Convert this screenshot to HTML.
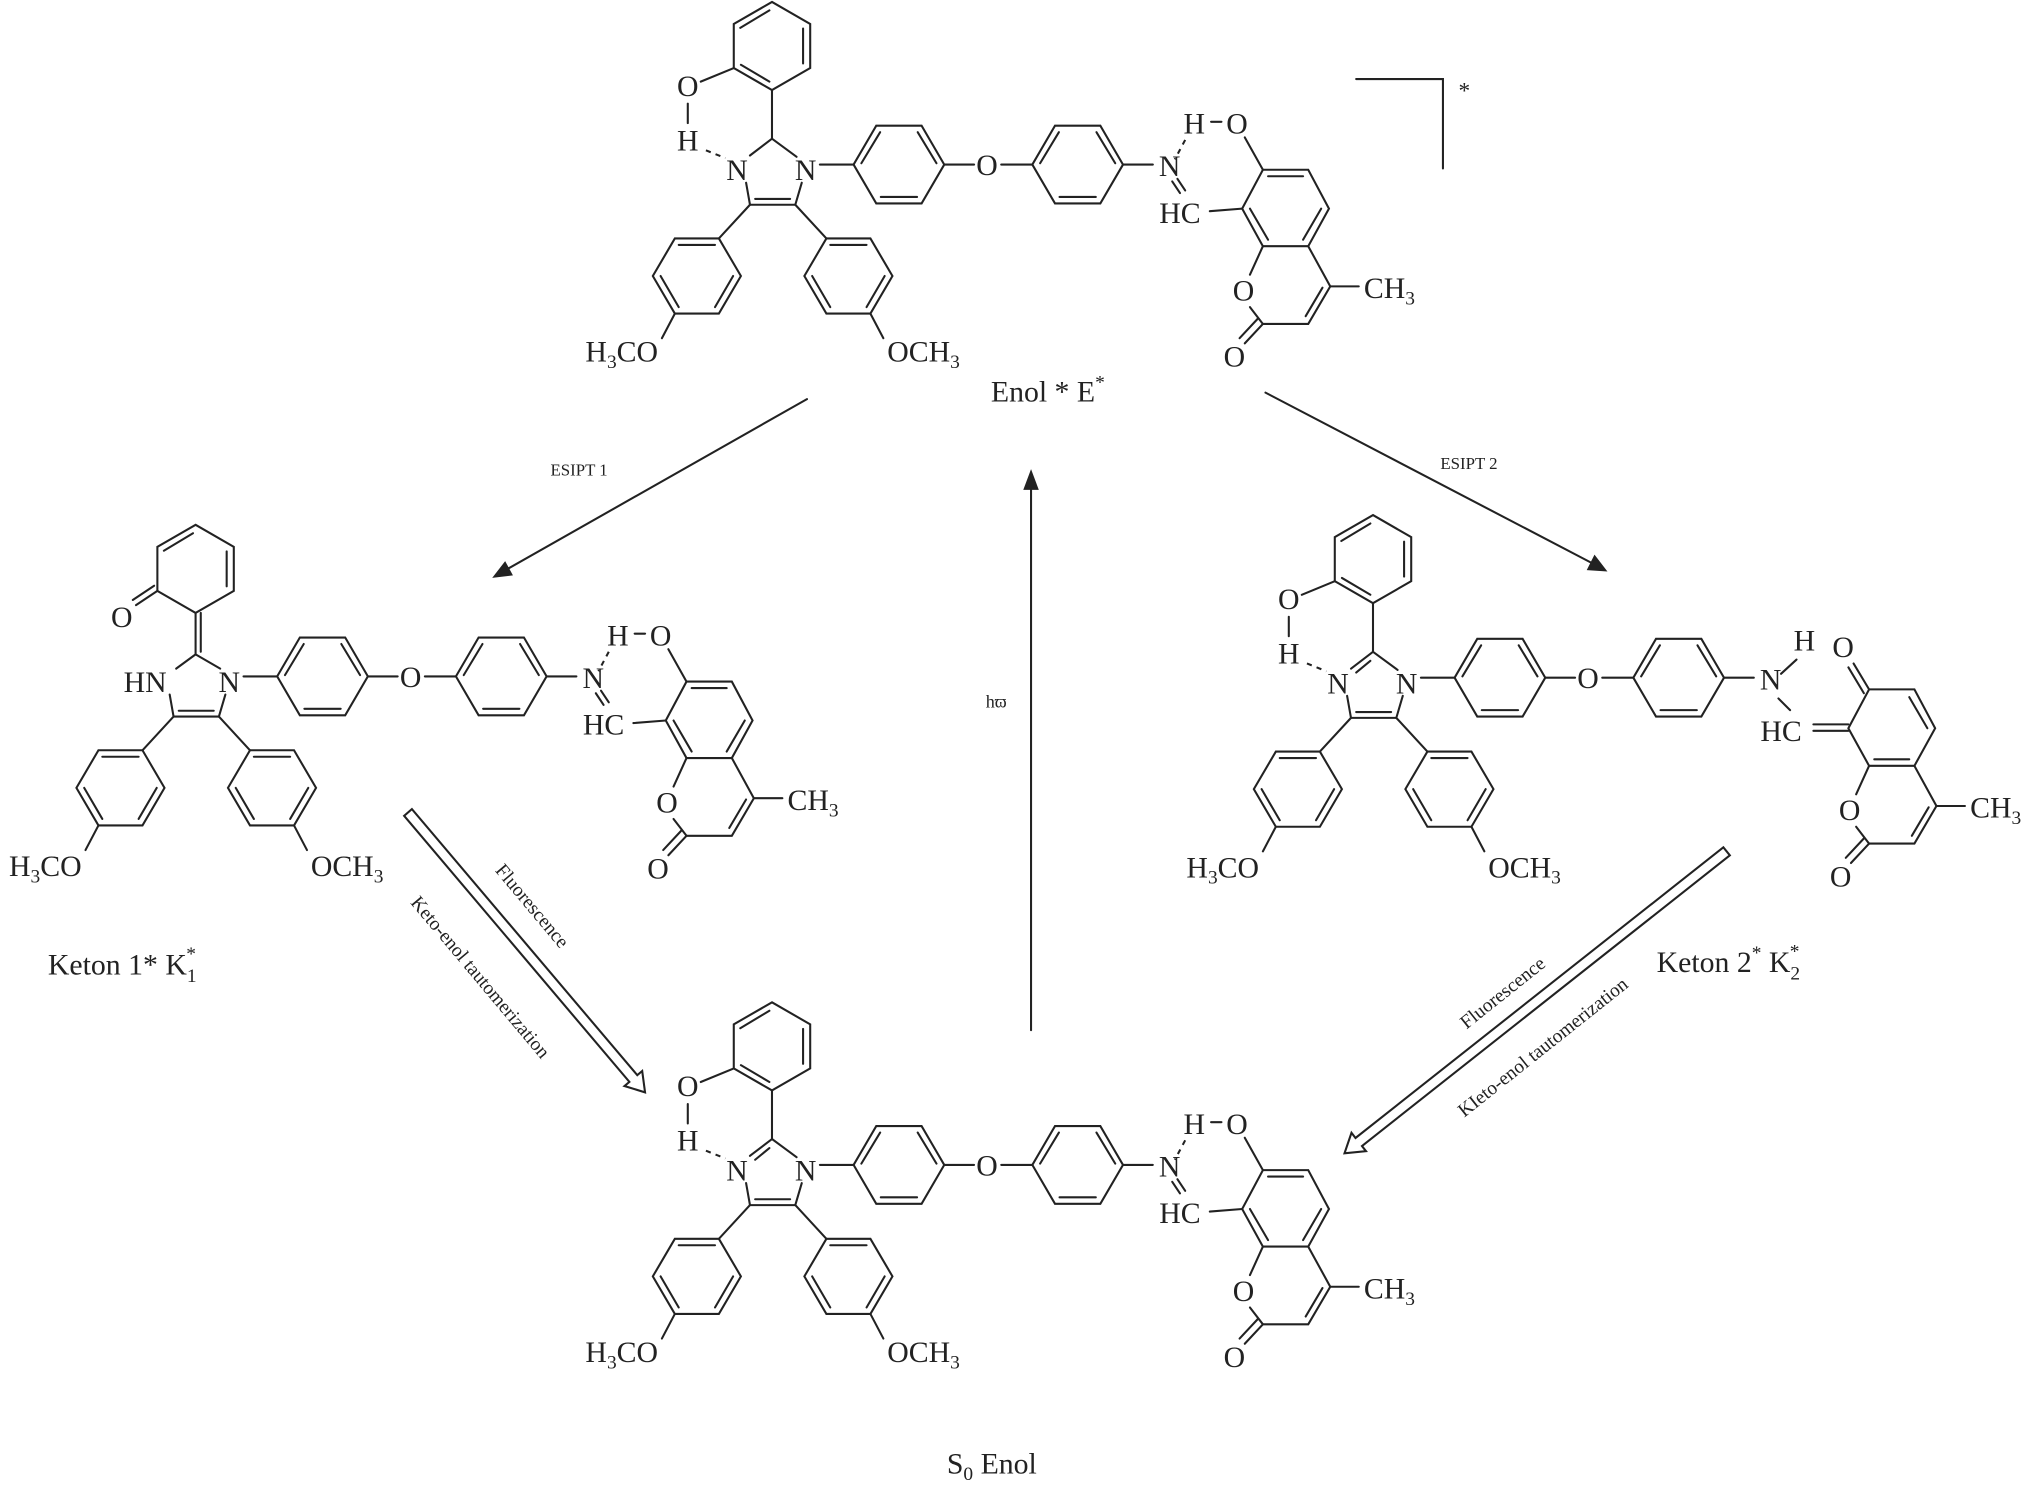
<!DOCTYPE html>
<html><head><meta charset="utf-8">
<style>
html,body{margin:0;padding:0;background:#fff;}
svg{display:block;}
.l{stroke:#222;stroke-width:1.6;fill:none;stroke-linecap:round;}
.d{stroke:#222;stroke-width:1.6;fill:none;stroke-dasharray:4 4;}
text{font-family:"Liberation Serif",serif;fill:#222;}
.t{font-size:23px;text-anchor:middle;}
.t.st{text-anchor:start;}
.s{font-size:15px;}
</style></head><body>
<svg width="2031" height="1485" viewBox="0 0 1568 1146" preserveAspectRatio="none" xmlns="http://www.w3.org/2000/svg">

<!-- ================= TOP MOLECULE (Enol*) ================= -->
<g id="m1">
 <polygon class="l" points="596,1.5 625.5,18.5 625.5,52.5 596,69.5 566.5,52.5 566.5,18.5"/>
 <line class="l" x1="571.5" y1="21.5" x2="594" y2="8"/>
 <line class="l" x1="620" y1="22" x2="620" y2="49"/>
 <line class="l" x1="572" y1="50" x2="594" y2="63"/>
 <line class="l" x1="596" y1="69.5" x2="596" y2="107"/>
 <line class="l" x1="566.5" y1="52.5" x2="541" y2="63"/>
 <text class="t" x="531" y="74">O</text>
 <line class="l" x1="531" y1="80" x2="531" y2="95"/>
 <text class="t" x="531" y="116">H</text>
 <line class="d" x1="545" y1="116" x2="560" y2="122"/>
 <text class="t" x="569" y="139">N</text>
 <text class="t" x="622" y="139">N</text>
 <line class="l" x1="596" y1="107" x2="579" y2="120"/>
 <line class="l" x1="596" y1="107" x2="615" y2="121"/>
 <line class="l" x1="576" y1="141" x2="579" y2="158"/>
 <line class="l" x1="619" y1="141" x2="614" y2="158"/>
 <line class="l" x1="579" y1="158" x2="614" y2="158"/>
 <line class="l" x1="583" y1="153.5" x2="610" y2="153.5"/>
 <line class="l" x1="579" y1="158" x2="555" y2="184"/>
 <polygon class="l" points="555,184 521,184 504,213 521,242 555,242 572,213"/>
 <line class="l" x1="524" y1="189" x2="552" y2="189"/>
 <line class="l" x1="510" y1="213" x2="524" y2="237"/>
 <line class="l" x1="552" y1="237" x2="566" y2="213"/>
 <line class="l" x1="521" y1="242" x2="511" y2="261"/>
 <text class="t" x="480" y="279">H<tspan font-size="15" dy="5">3</tspan><tspan dy="-5">CO</tspan></text>
 <line class="l" x1="614" y1="158" x2="638" y2="184"/>
 <polygon class="l" points="638,184 672,184 689,213 672,242 638,242 621,213"/>
 <line class="l" x1="641" y1="189" x2="669" y2="189"/>
 <line class="l" x1="627" y1="213" x2="641" y2="237"/>
 <line class="l" x1="669" y1="237" x2="683" y2="213"/>
 <line class="l" x1="672" y1="242" x2="682" y2="261"/>
 <text class="t" x="713" y="279">OCH<tspan font-size="15" dy="5">3</tspan></text>
 <line class="l" x1="633" y1="127" x2="659" y2="127"/>
 <polygon class="l" points="659,127 676.5,97 711.5,97 729,127 711.5,157 676.5,157"/>
 <line class="l" x1="665" y1="126" x2="679.5" y2="102"/>
 <line class="l" x1="708.5" y1="102" x2="723" y2="126"/>
 <line class="l" x1="680" y1="152" x2="708" y2="152"/>
 <line class="l" x1="729" y1="127" x2="752" y2="127"/>
 <text class="t" x="762" y="135">O</text>
 <line class="l" x1="773" y1="127" x2="797" y2="127"/>
 <polygon class="l" points="797,127 814.5,97 849.5,97 867,127 849.5,157 814.5,157"/>
 <line class="l" x1="803" y1="126" x2="817.5" y2="102"/>
 <line class="l" x1="846.5" y1="102" x2="861" y2="126"/>
 <line class="l" x1="818" y1="152" x2="846" y2="152"/>
 <line class="l" x1="867" y1="127" x2="890" y2="127"/>
 <text class="t" x="903" y="136">N</text>
 <text class="t" x="922" y="103">H</text>
 <line class="l" x1="935" y1="94" x2="943" y2="94"/>
 <text class="t" x="955" y="103">O</text>
 <line class="l" x1="961" y1="106" x2="975" y2="131"/>
 <line class="d" x1="915" y1="108" x2="907" y2="123" stroke-dasharray="3 3"/>
 <line class="l" x1="905" y1="140" x2="911" y2="149"/>
 <line class="l" x1="909" y1="138" x2="915" y2="147"/>
 <text class="t" x="911" y="172">HC</text>
 <line class="l" x1="934" y1="163" x2="959" y2="161"/>
 <polygon class="l" points="975,131 1010,131 1026,161 1010,190 975,190 959,161"/>
 <line class="l" x1="979" y1="136" x2="1006" y2="136"/>
 <line class="l" x1="1020" y1="161" x2="1006" y2="185"/>
 <line class="l" x1="965" y1="161" x2="979" y2="185"/>
 <line class="l" x1="975" y1="190" x2="965" y2="212"/>
 <text class="t" x="960" y="232">O</text>
 <line class="l" x1="965" y1="237" x2="975" y2="250"/>
 <polyline class="l" points="975,250 1010,250 1027,221 1010,190"/>
 <line class="l" x1="1008" y1="244" x2="1021" y2="222"/>
 <line class="l" x1="975" y1="250" x2="961" y2="265"/>
 <line class="l" x1="971" y1="246" x2="957" y2="261"/>
 <text class="t" x="953" y="283">O</text>
 <line class="l" x1="1027" y1="221" x2="1049" y2="221"/>
 <text class="t st" x="1053" y="230">CH<tspan font-size="15" dy="5">3</tspan></text>
</g>
<polyline class="l" points="1047,61 1114,61 1114,130"/>
<text x="1126" y="76" font-size="18">*</text>
<text x="765" y="310" font-size="23">Enol * E<tspan font-size="15" dy="-10">*</tspan></text>

<!-- ================= BOTTOM MOLECULE (S0 Enol) ================= -->
<g transform="translate(0,772)">
 <polygon class="l" points="596,1.5 625.5,18.5 625.5,52.5 596,69.5 566.5,52.5 566.5,18.5"/>
 <line class="l" x1="571.5" y1="21.5" x2="594" y2="8"/>
 <line class="l" x1="620" y1="22" x2="620" y2="49"/>
 <line class="l" x1="572" y1="50" x2="594" y2="63"/>
 <line class="l" x1="596" y1="69.5" x2="596" y2="107"/>
 <line class="l" x1="566.5" y1="52.5" x2="541" y2="63"/>
 <text class="t" x="531" y="74">O</text>
 <line class="l" x1="531" y1="80" x2="531" y2="95"/>
 <text class="t" x="531" y="116">H</text>
 <line class="d" x1="545" y1="116" x2="560" y2="122"/>
 <text class="t" x="569" y="139">N</text>
 <text class="t" x="622" y="139">N</text>
 <line class="l" x1="596" y1="107" x2="579" y2="120"/>
 <line class="l" x1="594" y1="114" x2="583" y2="123"/>
 <line class="l" x1="596" y1="107" x2="615" y2="121"/>
 <line class="l" x1="576" y1="141" x2="579" y2="158"/>
 <line class="l" x1="619" y1="141" x2="614" y2="158"/>
 <line class="l" x1="579" y1="158" x2="614" y2="158"/>
 <line class="l" x1="583" y1="153.5" x2="610" y2="153.5"/>
 <line class="l" x1="579" y1="158" x2="555" y2="184"/>
 <polygon class="l" points="555,184 521,184 504,213 521,242 555,242 572,213"/>
 <line class="l" x1="524" y1="189" x2="552" y2="189"/>
 <line class="l" x1="510" y1="213" x2="524" y2="237"/>
 <line class="l" x1="552" y1="237" x2="566" y2="213"/>
 <line class="l" x1="521" y1="242" x2="511" y2="261"/>
 <text class="t" x="480" y="279">H<tspan font-size="15" dy="5">3</tspan><tspan dy="-5">CO</tspan></text>
 <line class="l" x1="614" y1="158" x2="638" y2="184"/>
 <polygon class="l" points="638,184 672,184 689,213 672,242 638,242 621,213"/>
 <line class="l" x1="641" y1="189" x2="669" y2="189"/>
 <line class="l" x1="627" y1="213" x2="641" y2="237"/>
 <line class="l" x1="669" y1="237" x2="683" y2="213"/>
 <line class="l" x1="672" y1="242" x2="682" y2="261"/>
 <text class="t" x="713" y="279">OCH<tspan font-size="15" dy="5">3</tspan></text>
 <line class="l" x1="633" y1="127" x2="659" y2="127"/>
 <polygon class="l" points="659,127 676.5,97 711.5,97 729,127 711.5,157 676.5,157"/>
 <line class="l" x1="665" y1="126" x2="679.5" y2="102"/>
 <line class="l" x1="708.5" y1="102" x2="723" y2="126"/>
 <line class="l" x1="680" y1="152" x2="708" y2="152"/>
 <line class="l" x1="729" y1="127" x2="752" y2="127"/>
 <text class="t" x="762" y="135">O</text>
 <line class="l" x1="773" y1="127" x2="797" y2="127"/>
 <polygon class="l" points="797,127 814.5,97 849.5,97 867,127 849.5,157 814.5,157"/>
 <line class="l" x1="803" y1="126" x2="817.5" y2="102"/>
 <line class="l" x1="846.5" y1="102" x2="861" y2="126"/>
 <line class="l" x1="818" y1="152" x2="846" y2="152"/>
 <line class="l" x1="867" y1="127" x2="890" y2="127"/>
 <text class="t" x="903" y="136">N</text>
 <text class="t" x="922" y="103">H</text>
 <line class="l" x1="935" y1="94" x2="943" y2="94"/>
 <text class="t" x="955" y="103">O</text>
 <line class="l" x1="961" y1="106" x2="975" y2="131"/>
 <line class="d" x1="915" y1="108" x2="907" y2="123" stroke-dasharray="3 3"/>
 <line class="l" x1="905" y1="140" x2="911" y2="149"/>
 <line class="l" x1="909" y1="138" x2="915" y2="147"/>
 <text class="t" x="911" y="172">HC</text>
 <line class="l" x1="934" y1="163" x2="959" y2="161"/>
 <polygon class="l" points="975,131 1010,131 1026,161 1010,190 975,190 959,161"/>
 <line class="l" x1="979" y1="136" x2="1006" y2="136"/>
 <line class="l" x1="1020" y1="161" x2="1006" y2="185"/>
 <line class="l" x1="965" y1="161" x2="979" y2="185"/>
 <line class="l" x1="975" y1="190" x2="965" y2="212"/>
 <text class="t" x="960" y="232">O</text>
 <line class="l" x1="965" y1="237" x2="975" y2="250"/>
 <polyline class="l" points="975,250 1010,250 1027,221 1010,190"/>
 <line class="l" x1="1008" y1="244" x2="1021" y2="222"/>
 <line class="l" x1="975" y1="250" x2="961" y2="265"/>
 <line class="l" x1="971" y1="246" x2="957" y2="261"/>
 <text class="t" x="953" y="283">O</text>
 <line class="l" x1="1027" y1="221" x2="1049" y2="221"/>
 <text class="t st" x="1053" y="230">CH<tspan font-size="15" dy="5">3</tspan></text>
</g>
<text x="731" y="1137" font-size="23">S<tspan font-size="15" dy="5">0</tspan><tspan dy="-5"> Enol</tspan></text>

<!-- ================= LEFT MOLECULE (Keton 1*) ================= -->
<g transform="translate(-445,395)">
 <polygon class="l" points="596,10 625.5,27 625.5,61 596,78 566.5,61 566.5,27"/>
 <line class="l" x1="571.5" y1="30" x2="594" y2="16.5"/>
 <line class="l" x1="620" y1="30.5" x2="620" y2="57.5"/>
 <line class="l" x1="596" y1="78" x2="596" y2="110"/>
 <line class="l" x1="600" y1="78" x2="600" y2="108"/>
 <line class="l" x1="566.5" y1="61" x2="550" y2="72"/>
 <line class="l" x1="564" y1="57" x2="547.5" y2="68"/>
 <text class="t" x="539" y="89">O</text>
 <text class="t" x="557" y="139">HN</text>
 <text class="t" x="622" y="139">N</text>
 <line class="l" x1="596" y1="110" x2="581" y2="121"/>
 <line class="l" x1="596" y1="110" x2="615" y2="121"/>
 <line class="l" x1="576" y1="141" x2="579" y2="158"/>
 <line class="l" x1="619" y1="141" x2="614" y2="158"/>
 <line class="l" x1="579" y1="158" x2="614" y2="158"/>
 <line class="l" x1="583" y1="153.5" x2="610" y2="153.5"/>
 <line class="l" x1="579" y1="158" x2="555" y2="184"/>
 <polygon class="l" points="555,184 521,184 504,213 521,242 555,242 572,213"/>
 <line class="l" x1="524" y1="189" x2="552" y2="189"/>
 <line class="l" x1="510" y1="213" x2="524" y2="237"/>
 <line class="l" x1="552" y1="237" x2="566" y2="213"/>
 <line class="l" x1="521" y1="242" x2="511" y2="261"/>
 <text class="t" x="480" y="281">H<tspan font-size="15" dy="5">3</tspan><tspan dy="-5">CO</tspan></text>
 <line class="l" x1="614" y1="158" x2="638" y2="184"/>
 <polygon class="l" points="638,184 672,184 689,213 672,242 638,242 621,213"/>
 <line class="l" x1="641" y1="189" x2="669" y2="189"/>
 <line class="l" x1="627" y1="213" x2="641" y2="237"/>
 <line class="l" x1="669" y1="237" x2="683" y2="213"/>
 <line class="l" x1="672" y1="242" x2="682" y2="261"/>
 <text class="t" x="713" y="281">OCH<tspan font-size="15" dy="5">3</tspan></text>
 <line class="l" x1="633" y1="127" x2="659" y2="127"/>
 <polygon class="l" points="659,127 676.5,97 711.5,97 729,127 711.5,157 676.5,157"/>
 <line class="l" x1="665" y1="126" x2="679.5" y2="102"/>
 <line class="l" x1="708.5" y1="102" x2="723" y2="126"/>
 <line class="l" x1="680" y1="152" x2="708" y2="152"/>
 <line class="l" x1="729" y1="127" x2="752" y2="127"/>
 <text class="t" x="762" y="135">O</text>
 <line class="l" x1="773" y1="127" x2="797" y2="127"/>
 <polygon class="l" points="797,127 814.5,97 849.5,97 867,127 849.5,157 814.5,157"/>
 <line class="l" x1="803" y1="126" x2="817.5" y2="102"/>
 <line class="l" x1="846.5" y1="102" x2="861" y2="126"/>
 <line class="l" x1="818" y1="152" x2="846" y2="152"/>
 <line class="l" x1="867" y1="127" x2="890" y2="127"/>
 <text class="t" x="903" y="136">N</text>
 <text class="t" x="922" y="103">H</text>
 <line class="l" x1="935" y1="94" x2="943" y2="94"/>
 <text class="t" x="955" y="103">O</text>
 <line class="l" x1="961" y1="106" x2="975" y2="131"/>
 <line class="d" x1="915" y1="108" x2="907" y2="123" stroke-dasharray="3 3"/>
 <line class="l" x1="905" y1="140" x2="911" y2="149"/>
 <line class="l" x1="909" y1="138" x2="915" y2="147"/>
 <text class="t" x="911" y="172">HC</text>
 <line class="l" x1="934" y1="163" x2="959" y2="161"/>
 <polygon class="l" points="975,131 1010,131 1026,161 1010,190 975,190 959,161"/>
 <line class="l" x1="979" y1="136" x2="1006" y2="136"/>
 <line class="l" x1="1020" y1="161" x2="1006" y2="185"/>
 <line class="l" x1="965" y1="161" x2="979" y2="185"/>
 <line class="l" x1="975" y1="190" x2="965" y2="212"/>
 <text class="t" x="960" y="232">O</text>
 <line class="l" x1="965" y1="237" x2="975" y2="250"/>
 <polyline class="l" points="975,250 1010,250 1027,221 1010,190"/>
 <line class="l" x1="1008" y1="244" x2="1021" y2="222"/>
 <line class="l" x1="975" y1="250" x2="961" y2="265"/>
 <line class="l" x1="971" y1="246" x2="957" y2="261"/>
 <text class="t" x="953" y="283">O</text>
 <line class="l" x1="1027" y1="221" x2="1049" y2="221"/>
 <text class="t st" x="1053" y="230">CH<tspan font-size="15" dy="5">3</tspan></text>
</g>
<text x="37" y="752" font-size="23">Keton 1*  K<tspan font-size="15" dy="6">1</tspan><tspan font-size="15" dx="-8" dy="-17">*</tspan></text>

<!-- ================= RIGHT MOLECULE (Keton 2*) ================= -->
<g transform="translate(464,396)">
 <polygon class="l" points="596,1.5 625.5,18.5 625.5,52.5 596,69.5 566.5,52.5 566.5,18.5"/>
 <line class="l" x1="571.5" y1="21.5" x2="594" y2="8"/>
 <line class="l" x1="620" y1="22" x2="620" y2="49"/>
 <line class="l" x1="572" y1="50" x2="594" y2="63"/>
 <line class="l" x1="596" y1="69.5" x2="596" y2="107"/>
 <line class="l" x1="566.5" y1="52.5" x2="541" y2="63"/>
 <text class="t" x="531" y="74">O</text>
 <line class="l" x1="531" y1="80" x2="531" y2="95"/>
 <text class="t" x="531" y="116">H</text>
 <line class="d" x1="545" y1="116" x2="560" y2="122"/>
 <text class="t" x="569" y="139">N</text>
 <text class="t" x="622" y="139">N</text>
 <line class="l" x1="596" y1="107" x2="579" y2="120"/>
 <line class="l" x1="594" y1="114" x2="583" y2="123"/>
 <line class="l" x1="596" y1="107" x2="615" y2="121"/>
 <line class="l" x1="576" y1="141" x2="579" y2="158"/>
 <line class="l" x1="619" y1="141" x2="614" y2="158"/>
 <line class="l" x1="579" y1="158" x2="614" y2="158"/>
 <line class="l" x1="583" y1="153.5" x2="610" y2="153.5"/>
 <line class="l" x1="579" y1="158" x2="555" y2="184"/>
 <polygon class="l" points="555,184 521,184 504,213 521,242 555,242 572,213"/>
 <line class="l" x1="524" y1="189" x2="552" y2="189"/>
 <line class="l" x1="510" y1="213" x2="524" y2="237"/>
 <line class="l" x1="552" y1="237" x2="566" y2="213"/>
 <line class="l" x1="521" y1="242" x2="511" y2="261"/>
 <text class="t" x="480" y="281">H<tspan font-size="15" dy="5">3</tspan><tspan dy="-5">CO</tspan></text>
 <line class="l" x1="614" y1="158" x2="638" y2="184"/>
 <polygon class="l" points="638,184 672,184 689,213 672,242 638,242 621,213"/>
 <line class="l" x1="641" y1="189" x2="669" y2="189"/>
 <line class="l" x1="627" y1="213" x2="641" y2="237"/>
 <line class="l" x1="669" y1="237" x2="683" y2="213"/>
 <line class="l" x1="672" y1="242" x2="682" y2="261"/>
 <text class="t" x="713" y="281">OCH<tspan font-size="15" dy="5">3</tspan></text>
 <line class="l" x1="633" y1="127" x2="659" y2="127"/>
 <polygon class="l" points="659,127 676.5,97 711.5,97 729,127 711.5,157 676.5,157"/>
 <line class="l" x1="665" y1="126" x2="679.5" y2="102"/>
 <line class="l" x1="708.5" y1="102" x2="723" y2="126"/>
 <line class="l" x1="680" y1="152" x2="708" y2="152"/>
 <line class="l" x1="729" y1="127" x2="752" y2="127"/>
 <text class="t" x="762" y="135">O</text>
 <line class="l" x1="773" y1="127" x2="797" y2="127"/>
 <polygon class="l" points="797,127 814.5,97 849.5,97 867,127 849.5,157 814.5,157"/>
 <line class="l" x1="803" y1="126" x2="817.5" y2="102"/>
 <line class="l" x1="846.5" y1="102" x2="861" y2="126"/>
 <line class="l" x1="818" y1="152" x2="846" y2="152"/>
 <line class="l" x1="867" y1="127" x2="890" y2="127"/>
 <text class="t" x="903" y="136">N</text>
 <line class="l" x1="911" y1="124" x2="923" y2="113"/>
 <text class="t" x="929" y="106">H</text>
 <line class="l" x1="909" y1="143" x2="918" y2="152"/>
 <text class="t" x="911" y="176">HC</text>
 <line class="l" x1="936" y1="163" x2="963" y2="163"/>
 <line class="l" x1="936" y1="168" x2="963" y2="168"/>
 <g transform="translate(4,5)">
 <line class="l" x1="975" y1="131" x2="963" y2="111"/>
 <line class="l" x1="971" y1="134" x2="959" y2="114"/>
 <text class="t" x="955" y="106">O</text>
 <polygon class="l" points="975,131 1010,131 1026,161 1010,190 975,190 959,161"/>
 <line class="l" x1="1006" y1="137" x2="1020" y2="161"/>
 <line class="l" x1="979" y1="185" x2="1006" y2="185"/>
 <line class="l" x1="975" y1="190" x2="965" y2="212"/>
 <text class="t" x="960" y="232">O</text>
 <line class="l" x1="965" y1="237" x2="975" y2="250"/>
 <polyline class="l" points="975,250 1010,250 1027,221 1010,190"/>
 <line class="l" x1="1008" y1="244" x2="1021" y2="222"/>
 <line class="l" x1="975" y1="250" x2="961" y2="265"/>
 <line class="l" x1="971" y1="246" x2="957" y2="261"/>
 <text class="t" x="953" y="283">O</text>
 <line class="l" x1="1027" y1="221" x2="1049" y2="221"/>
 <text class="t st" x="1053" y="230">CH<tspan font-size="15" dy="5">3</tspan></text>
 </g>
</g>
<text x="1279" y="750" font-size="23">Keton 2<tspan font-size="15" dy="-10">*</tspan><tspan dy="10">  K</tspan><tspan font-size="15" dy="6">2</tspan><tspan font-size="15" dx="-8" dy="-17">*</tspan></text>

<!-- ================= ARROWS ================= -->
<line class="l" x1="623" y1="308" x2="392" y2="439"/>
<polygon points="380,446 390,433 396,444" fill="#222"/>
<text x="425" y="367" font-size="13">ESIPT 1</text>

<line class="l" x1="977" y1="303" x2="1228" y2="434"/>
<polygon points="1241,441 1225,440 1231,428" fill="#222"/>
<text x="1112" y="362" font-size="13">ESIPT 2</text>

<line class="l" x1="796" y1="795" x2="796" y2="376"/>
<polygon points="796,362 790,378 802,378" fill="#222"/>
<text x="761" y="546" font-size="14">hϖ</text>

<polygon class="l" stroke-linejoin="miter" points="312,629.6 485.9,834.9 482.1,838.1 498,843 495.8,826.5 492,829.7 318,624.4"/>
<text class="s" transform="translate(411,699) rotate(50)" text-anchor="middle" dy="5">Fluorescence</text>
<text class="s" transform="translate(371,754) rotate(50)" text-anchor="middle" dy="5">Keto-enol tautomerization</text>

<polygon class="l" stroke-linejoin="miter" points="1330.5,653.9 1046.5,878.2 1043.4,874.2 1038,890 1054.6,888.4 1051.5,884.4 1335.5,660.1"/>
<text class="s" transform="translate(1160,766) rotate(-38.5)" text-anchor="middle" dy="5">Fluorescence</text>
<text class="s" transform="translate(1191,808) rotate(-38.5)" text-anchor="middle" dy="5">KIeto-enol tautomerization</text>

</svg>
</body></html>
